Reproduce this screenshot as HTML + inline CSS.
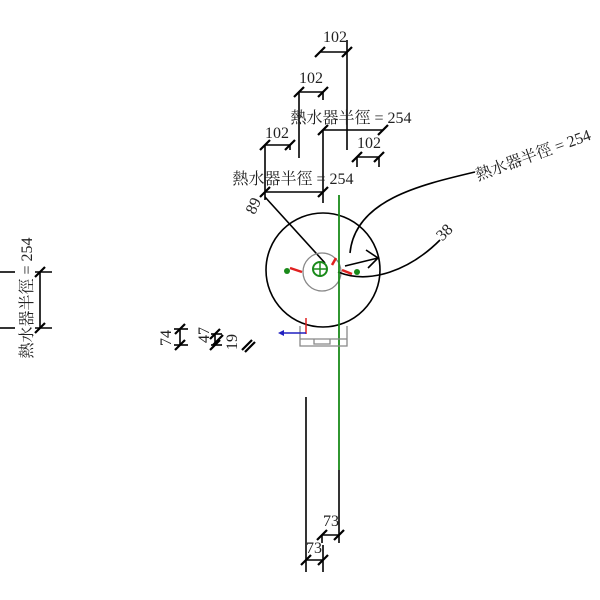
<!DOCTYPE html>
<html><head><meta charset="utf-8"><style>body{margin:0;background:#fff}svg{display:block}
text{font-family:"Liberation Serif","Noto Serif CJK SC","Noto Sans CJK TC",serif;fill:#222}</style></head>
<body>
<svg width="600" height="600" viewBox="0 0 600 600" xmlns="http://www.w3.org/2000/svg">
<defs>
<g id="t"><line x1="-5" y1="5" x2="5" y2="-5" stroke="#000" stroke-width="2.2"/></g>
</defs>
<g stroke="#000" stroke-width="1.6" fill="none">
<!-- top 102 -->
<line x1="320" y1="52" x2="347" y2="52"/><line x1="347" y1="52" x2="347" y2="150"/><line x1="347" y1="40" x2="347" y2="52"/>
<!-- second 102 -->
<line x1="299" y1="92" x2="323" y2="92"/><line x1="299" y1="92" x2="299" y2="158"/><line x1="323" y1="92" x2="323" y2="100"/>
<!-- 254 upper -->
<line x1="323" y1="130" x2="383" y2="130"/><line x1="323" y1="130" x2="323" y2="203"/>
<!-- third 102 -->
<line x1="265" y1="145" x2="290" y2="145"/><line x1="265" y1="145" x2="265" y2="200"/><line x1="290" y1="145" x2="290" y2="150"/>
<!-- fourth 102 -->
<line x1="357" y1="157" x2="379" y2="157"/><line x1="357" y1="157" x2="357" y2="167"/><line x1="379" y1="157" x2="379" y2="167"/>
<!-- lower 254 -->
<line x1="265" y1="192" x2="323" y2="192"/>
<!-- leader -->
<line x1="265" y1="197" x2="325" y2="263"/>
<!-- circles -->
<circle cx="323" cy="270" r="57"/>
<circle cx="322" cy="272" r="19" stroke="#888" stroke-width="1.3"/>
<!-- radius curve -->
<path d="M475 172 C420 185 355 200 350 253"/>
<path d="M345 266 L378 258 M366 250 L378 258 L368 268"/>
<path d="M338 272 C370 285 410 270 440 240"/>
<!-- left -->
<line x1="40" y1="272" x2="40" y2="328"/>
<line x1="0" y1="272" x2="15" y2="272"/><line x1="0" y1="328" x2="15" y2="328"/>
<line x1="35" y1="272" x2="52" y2="272"/><line x1="35" y1="328" x2="52" y2="328"/>
<line x1="180" y1="329" x2="180" y2="345"/><line x1="174" y1="329" x2="188" y2="329"/><line x1="174" y1="345" x2="188" y2="345"/>
<line x1="215" y1="334" x2="215" y2="345"/><line x1="211" y1="334" x2="222" y2="334"/><line x1="211" y1="345" x2="222" y2="345"/>
<!-- bottom -->
<line x1="306" y1="397" x2="306" y2="572"/>
<line x1="339" y1="470" x2="339" y2="543"/>
<line x1="322" y1="535" x2="339" y2="535"/><line x1="322" y1="535" x2="322" y2="543"/>
<line x1="306" y1="560" x2="323" y2="560"/><line x1="323" y1="545" x2="323" y2="572"/>
</g>
<g>
<use href="#t" x="320" y="52"/><use href="#t" x="347" y="52"/>
<use href="#t" x="299" y="92"/><use href="#t" x="323" y="92"/>
<use href="#t" x="323" y="130"/><use href="#t" x="383" y="130"/>
<use href="#t" x="265" y="145"/><use href="#t" x="290" y="145"/>
<use href="#t" x="357" y="157"/><use href="#t" x="379" y="157"/>
<use href="#t" x="265" y="192"/><use href="#t" x="323" y="192"/>
<use href="#t" x="40" y="272"/><use href="#t" x="40" y="328"/>
<use href="#t" x="180" y="329"/><use href="#t" x="180" y="345"/>
<use href="#t" x="215" y="334"/><use href="#t" x="215" y="345"/><use href="#t" x="218" y="340"/>
<use href="#t" x="247" y="345"/><use href="#t" x="250" y="347"/>
<use href="#t" x="322" y="535"/><use href="#t" x="339" y="535"/>
<use href="#t" x="306" y="560"/><use href="#t" x="323" y="560"/>
</g>
<!-- green line -->
<line x1="339" y1="195" x2="339" y2="470" stroke="#1a8a1a" stroke-width="1.8"/>
<circle cx="320" cy="269" r="7" stroke="#1a8a1a" stroke-width="2" fill="none"/>
<line x1="313" y1="269" x2="327" y2="269" stroke="#1a8a1a" stroke-width="1.5"/>
<line x1="320" y1="262" x2="320" y2="276" stroke="#1a8a1a" stroke-width="1.5"/>
<circle cx="287" cy="271" r="3" fill="#1a8a1a"/><circle cx="357" cy="272" r="3" fill="#1a8a1a"/>
<g stroke="#e02020" stroke-width="2.5" fill="none">
<path d="M290 268 L302 272"/><path d="M352 274 L342 270"/><path d="M332 265 L336 258"/>
</g>
<!-- small box -->
<g stroke="#888" stroke-width="1.3" fill="none">
<path d="M300 326 L300 346 L347 346 L347 326 M300 339 L347 339 M314 339 L314 344 L330 344 L330 339"/>
</g>
<line x1="306" y1="318" x2="306" y2="334" stroke="#e02020" stroke-width="1.5"/>
<line x1="306" y1="333" x2="282" y2="333" stroke="#2020c0" stroke-width="1.5"/>
<path d="M278 333 L284 330 L284 336 Z" fill="#2020c0"/>
<!-- text -->
<g font-size="16">
<text x="335" y="42" text-anchor="middle">102</text>
<text x="311" y="83" text-anchor="middle">102</text>
<text x="351" y="123" text-anchor="middle">熱水器半徑 = 254</text>
<text x="277" y="138" text-anchor="middle">102</text>
<text x="369" y="148" text-anchor="middle">102</text>
<text x="293" y="184" text-anchor="middle">熱水器半徑 = 254</text>
<text transform="translate(535,160) rotate(-20)" text-anchor="middle">熱水器半徑 = 254</text>
<text transform="translate(448,236) rotate(-45)" text-anchor="middle">38</text>
<text transform="translate(258,208) rotate(-65)" text-anchor="middle">89</text>
<text transform="translate(32,298) rotate(-90)" text-anchor="middle">熱水器半徑 = 254</text>
<text transform="translate(171,338) rotate(-90)" text-anchor="middle">74</text>
<text transform="translate(209,335) rotate(-90)" text-anchor="middle">47</text>
<text transform="translate(237,342) rotate(-90)" text-anchor="middle">19</text>
<text x="331" y="526" text-anchor="middle">73</text>
<text x="314" y="553" text-anchor="middle">73</text>
</g>
</svg>
</body></html>
